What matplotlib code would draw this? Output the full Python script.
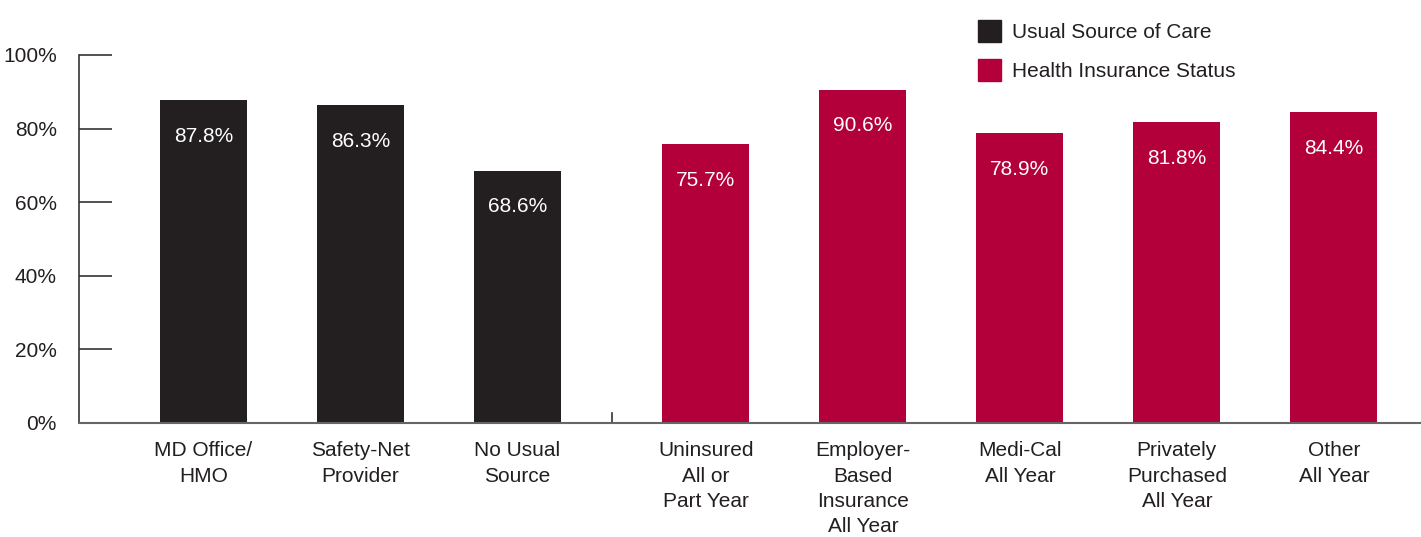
import matplotlib
matplotlib.use('Agg')
from matplotlib import pyplot as plt
from matplotlib.patches import Patch

plt.rcParams['font.family'] = ['Liberation Sans Narrow', 'Liberation Sans', 'DejaVu Sans']

categories = ['MD Office/\nHMO', 'Safety-Net\nProvider', 'No Usual\nSource',
              'Uninsured\nAll or\nPart Year', 'Employer-\nBased\nInsurance\nAll Year',
              'Medi-Cal\nAll Year', 'Privately\nPurchased\nAll Year', 'Other\nAll Year']
values = [87.8, 86.3, 68.6, 75.7, 90.6, 78.9, 81.8, 84.4]
groups = ['Usual Source of Care'] * 3 + ['Health Insurance Status'] * 5
group_names = ['Usual Source of Care', 'Health Insurance Status']

colors = {'Usual Source of Care': '#231f20', 'Health Insurance Status': '#b3003a'}
positions = [0, 1, 2, 3.2, 4.2, 5.2, 6.2, 7.2]

fig = plt.figure(figsize=(14.21, 5.37), dpi=100)
ax = fig.add_axes([0.0556, 0.2123, 0.9444, 0.6853])

bars = ax.bar(positions, values, width=0.555,
              color=[colors[g] for g in groups])
for x, v in zip(positions, values):
    ax.text(x, v - 7.3, f'{v:.1f}%', ha='center', va='top',
            color='white', fontsize=15)

ax.set_xlim(-0.793, 7.755)
ax.set_ylim(0, 100)
ax.set_yticks(range(0, 101, 20))
ax.set_yticklabels([f'{t}%' for t in range(0, 101, 20)], fontsize=15, color='#231f20')
ax.tick_params(axis='y', direction='in', length=24, width=1.2, color='#333333', pad=16)
ax.set_xticks(positions)
ax.set_xticklabels(categories, fontsize=15, color='#231f20', linespacing=1.43)
ax.tick_params(axis='x', length=0, pad=13)
ax.axvline(2.6, ymin=0, ymax=0.028, color='#333333', lw=1.2)

for s in ['top', 'right']:
    ax.spines[s].set_visible(False)
ax.spines['left'].set_color('#333333')
ax.spines['left'].set_linewidth(1.2)
ax.spines['bottom'].set_color('#666666')
ax.spines['bottom'].set_linewidth(1.5)

handles = [Patch(color=colors[g]) for g in group_names]
fig.legend(handles, group_names, loc='upper left', bbox_to_anchor=(0.675, 0.998),
           frameon=False, fontsize=15, handlelength=1.1, handleheight=1.25,
           handletextpad=0.55, labelspacing=0.8, labelcolor='#231f20')

plt.savefig('out.png', dpi=100)
